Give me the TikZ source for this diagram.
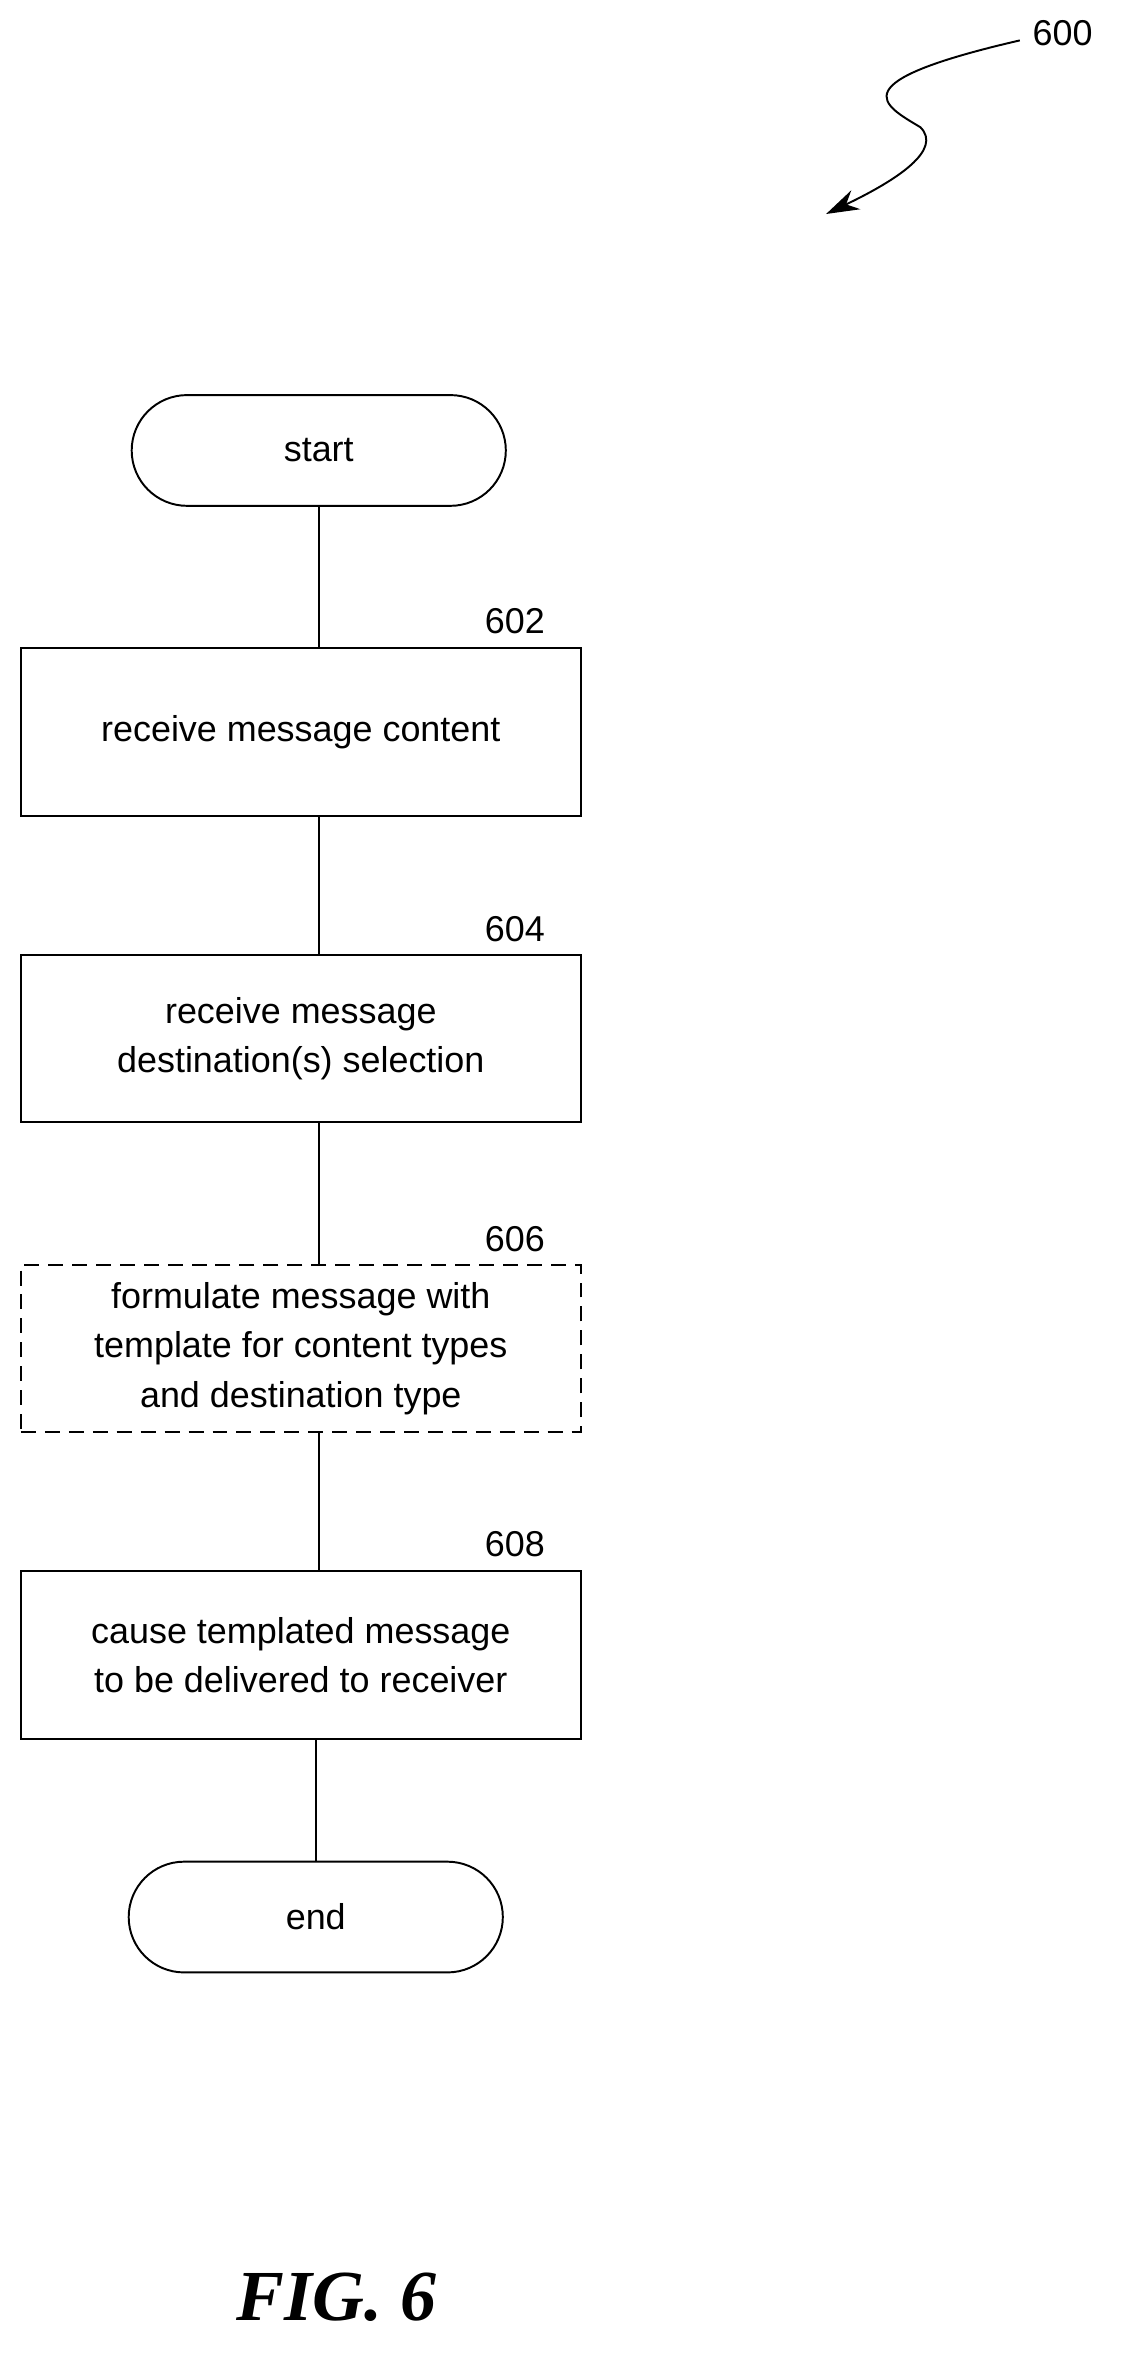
\documentclass[tikz,border=0pt]{standalone}
\usepackage{fontspec}
\setmainfont{Liberation Sans}
\newfontfamily\figfont{Liberation Serif}
\usetikzlibrary{positioning,arrows.meta}
\tikzset{
    stepbox/.style={draw, line width=1.3pt, minimum width=374pt, minimum height=112pt,
        align=center, font=\fontsize{24}{33}\selectfont},
    term/.style={draw, line width=1.3pt, rounded corners=37pt, minimum width=250pt,
        minimum height=74pt, font=\fontsize{24}{33}\selectfont},
    ref/.style={font=\fontsize{24}{28}\selectfont},
    flow/.style={line width=1.3pt}
}
\begin{document}
\begin{tikzpicture}[x=1pt,y=1pt]
    \useasboundingbox (0,0) rectangle (750,-1575);

    % terminals and steps
    \node[term] (start) at (213,-301) {start};
    \node[stepbox] (s602) at (201,-489) {receive message content};
    \node[stepbox] (s604) at (201,-694) {receive message\\destination(s) selection};
    \node[stepbox, dashed, dash pattern=on 10pt off 6pt] (s606) at (201,-901)
        {formulate message with\\template for content types\\and destination type};
    \node[stepbox] (s608) at (201,-1106) {cause templated message\\to be delivered to receiver};
    \node[term] (end) at (211,-1281) {end};

    % reference numerals
    \node[ref] at (344,-415) {602};
    \node[ref] at (344,-621) {604};
    \node[ref] at (344,-828) {606};
    \node[ref] at (344,-1032) {608};
    \node[ref] (n600) at (710,-22) {600};

    % connectors
    \draw[flow] (start.south) -- (start.south |- s602.north);
    \draw[flow] (start.south |- s602.south) -- (start.south |- s604.north);
    \draw[flow] (start.south |- s604.south) -- (start.south |- s606.north);
    \draw[flow] (start.south |- s606.south) -- (start.south |- s608.north);
    \draw[flow] (end.north |- s608.south) -- (end.north);

    % squiggle
    \coordinate (tip) at (552,-143);
    \draw[flow, -{Stealth[length=22pt,width=14pt]}] (n600.west) ++(-5,-5)
        .. controls (560,-55) and (590,-70) .. (615,-85)
        .. controls (630,-100) and (600,-120) .. (tip);

    \node[font=\figfont\bfseries\itshape\fontsize{48}{52}\selectfont] at (225,-1535) {FIG. 6};
\end{tikzpicture}
\end{document}
